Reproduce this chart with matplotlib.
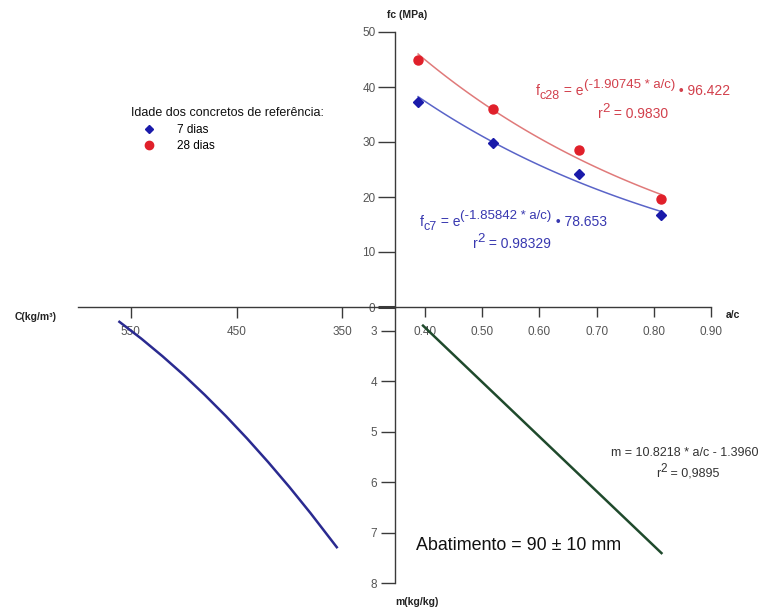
import numpy as np
import matplotlib
matplotlib.use("Agg")
import matplotlib.pyplot as plt
from matplotlib.lines import Line2D
from matplotlib.transforms import IdentityTransform

plt.rcParams['font.family'] = ['Liberation Sans', 'DejaVu Sans']

# ---------------- data ----------------
ac_points = [0.388, 0.519, 0.670, 0.813]
fc7 = [37.3, 29.9, 24.1, 16.7]
fc28 = [44.9, 36.0, 28.6, 19.6]

# regression coefficients shown on the chart
fc7_k, fc7_A = -1.85842, 78.653
fc28_k, fc28_A = -1.90745, 96.422
m_slope, m_icpt = 10.8218, -1.3960
m_ac_range = [0.395, 0.815]

# cement consumption curve (lower-left quadrant)
C_curve = [560.8, 540, 520, 500, 480, 460, 440, 420, 400, 380, 355.1]
m_curve = [2.82, 3.155, 3.503, 3.874, 4.270, 4.690, 5.134, 5.603, 6.095, 6.613, 7.29]

ac_ticks = [0.40, 0.50, 0.60, 0.70, 0.80, 0.90]
ac_ticklabels = ['0.40', '0.50', '0.60', '0.70', '0.80', '0.90']
fc_ticks = [0, 10, 20, 30, 40, 50]
m_ticks = [3, 4, 5, 6, 7, 8]
C_ticks = [550, 450, 350]
legend_labels = ['7 dias', '28 dias']
legend_title = 'Idade dos concretos de referência:'

# ---------------- layout helpers ----------------
W, H = 774, 610
fig = plt.figure(figsize=(W / 100, H / 100), dpi=100)


def box(x0, y0, x1, y1):
    return [x0 / W, 1 - y1 / H, (x1 - x0) / W, (y1 - y0) / H]


def ftxt(x, y, s, **kw):
    fig.text(x / W, 1 - y / H, s, **kw)


def rich(xc, yc, pieces, color, main_size):
    """pieces: (text, fontsize, vertical offset in px); centred at xc."""
    r = fig.canvas.get_renderer()
    arts, widths = [], []
    for s, size, dy in pieces:
        t = fig.text(0, 0, s, fontsize=size, color=color,
                     transform=IdentityTransform(), ha='left', va='baseline')
        widths.append(t.get_window_extent(r).width)
        arts.append(t)
    x = xc - sum(widths) / 2
    yb = H - (yc + 0.36 * main_size * 1.389)
    for t, w, (s, size, dy) in zip(arts, widths, pieces):
        t.set_position((x, yb + dy))
        x += w


SP = '#3a3a3a'
TL = '#555555'
ORX, ORY = 395, 307

ax1 = fig.add_axes(box(ORX, 32, 711, ORY))
ax1.set_xlim(0.3476, 0.90)
ax1.set_ylim(0, 50)
ax4 = fig.add_axes(box(ORX, ORY, 711, 583))
ax4.set_xlim(0.3476, 0.90)
ax4.set_ylim(8, 2.526)
ax3 = fig.add_axes(box(78, ORY, ORX, 583))
ax3.set_xlim(600, 300)
ax3.set_ylim(8, 2.526)

for ax in (ax1, ax3, ax4):
    ax.patch.set_alpha(0)
    for s in ax.spines.values():
        s.set_visible(False)
        s.set_color(SP)
        s.set_linewidth(1.0)

ax1.spines['left'].set_visible(True)
ax1.spines['bottom'].set_visible(True)
ax1.set_yticks(fc_ticks)
ax1.set_yticklabels([str(t) for t in fc_ticks])
ax1.set_xticks(ac_ticks)
ax1.set_xticklabels(ac_ticklabels)
ax1.tick_params(axis='y', direction='out', length=12, width=1, color=SP,
                labelsize=8.5, labelcolor=TL, pad=2)
ax1.tick_params(axis='x', direction='out', length=7, width=1, color=SP,
                labelsize=8.5, labelcolor=TL, pad=7)
zl = ax1.get_yticklines()[0]
zl.set_markeredgewidth(2.2)
zl.set_color('#222222')

ax4.spines['left'].set_visible(True)
ax4.set_xticks([])
ax4.set_yticks(m_ticks)
ax4.set_yticklabels([str(t) for t in m_ticks])
ax4.tick_params(axis='y', direction='out', length=10, width=1, color=SP,
                labelsize=8.5, labelcolor=TL, pad=3)

ax3.spines['bottom'].set_visible(True)
ax3.spines['bottom'].set_position(('axes', 1.0))
ax3.set_yticks([])
ax3.set_xticks(C_ticks)
ax3.set_xticklabels([str(t) for t in C_ticks])
ax3.tick_params(axis='x', direction='out', length=8, width=1, color=SP,
                labelsize=8.5, labelcolor=TL, pad=6)

# ---------------- marks ----------------
red_pt = '#e0202a'
blue_pt = '#1a1aaa'
red_ln = '#e07a7a'
blue_ln = '#5a64c8'

xs = np.linspace(ac_points[0], ac_points[-1], 100)
ax1.plot(xs, fc28_A * np.exp(fc28_k * xs), color=red_ln, lw=1.1, zorder=2)
ax1.plot(xs, fc7_A * np.exp(fc7_k * xs), color=blue_ln, lw=1.1, zorder=2)
ax1.plot(ac_points, fc28, 'o', color=red_pt, ms=6.5, mec=red_pt, zorder=3,
         clip_on=False)
ax1.plot(ac_points, fc7, 'D', color=blue_pt, ms=5, mec=blue_pt, zorder=3,
         clip_on=False)

ax4.plot(m_ac_range, [m_slope * a + m_icpt for a in m_ac_range],
         color='#1f4a2c', lw=1.8, solid_capstyle='butt')
ax3.plot(C_curve, m_curve, color='#2a2a90', lw=1.8)

# ---------------- legend ----------------
handles = [Line2D([], [], marker='D', ls='none', color=blue_pt, ms=4.5),
           Line2D([], [], marker='o', ls='none', color=red_pt, ms=6)]
leg = fig.legend(handles, legend_labels, title=legend_title,
                 loc='upper left', bbox_to_anchor=(131 / W, 1 - 107 / H),
                 frameon=False, fontsize=8.5, title_fontsize=9,
                 handlelength=3.1, handletextpad=0.8, labelspacing=0.4,
                 borderpad=0.0, borderaxespad=0.0, alignment='left',
                 numpoints=1)
leg.get_title().set_color('#111111')

# ---------------- texts ----------------
ftxt(407, 15, 'fc (MPa)', fontsize=7.5, fontweight='bold', ha='center',
     va='center', color='#222222')
ftxt(733, 315, 'a/c', fontsize=7.5, fontweight='bold', ha='center',
     va='center', color='#222222')
ftxt(36, 317, 'C(kg/m³)', fontsize=7.5, fontweight='bold', ha='center',
     va='center', color='#222222')
ftxt(417, 602, 'm(kg/kg)', fontsize=7.5, fontweight='bold', ha='center',
     va='center', color='#222222')

red_tx = '#d2404c'
blue_tx = '#3838b0'
rich(633, 90, [('f', 10, 0), ('c28', 9, -4), (' = e', 10, 0),
               ('(-1.90745 * a/c)', 9.5, 7), (' • 96.422', 10, 0)],
     red_tx, 10)
rich(633, 113, [('r', 10, 0), ('2', 9.5, 6), (' = 0.9830', 10, 0)], red_tx, 10)
rich(513, 221, [('f', 10, 0), ('c7', 9, -4), (' = e', 10, 0),
                ('(-1.85842 * a/c)', 9.5, 7), (' • 78.653', 10, 0)],
     blue_tx, 10)
rich(512, 243, [('r', 10, 0), ('2', 9.5, 6), (' = 0.98329', 10, 0)],
     blue_tx, 10)
ftxt(685, 453, 'm = 10.8218 * a/c - 1.3960', fontsize=9, ha='center',
     va='center', color='#333333')
rich(688, 472, [('r', 9, 0), ('2', 8.5, 5), (' = 0,9895', 9, 0)],
     '#333333', 9)
ftxt(416, 545, 'Abatimento = 90 ± 10 mm', fontsize=12.9, ha='left',
     va='center', color='#111111')

fig.savefig('out.png', dpi=100)
